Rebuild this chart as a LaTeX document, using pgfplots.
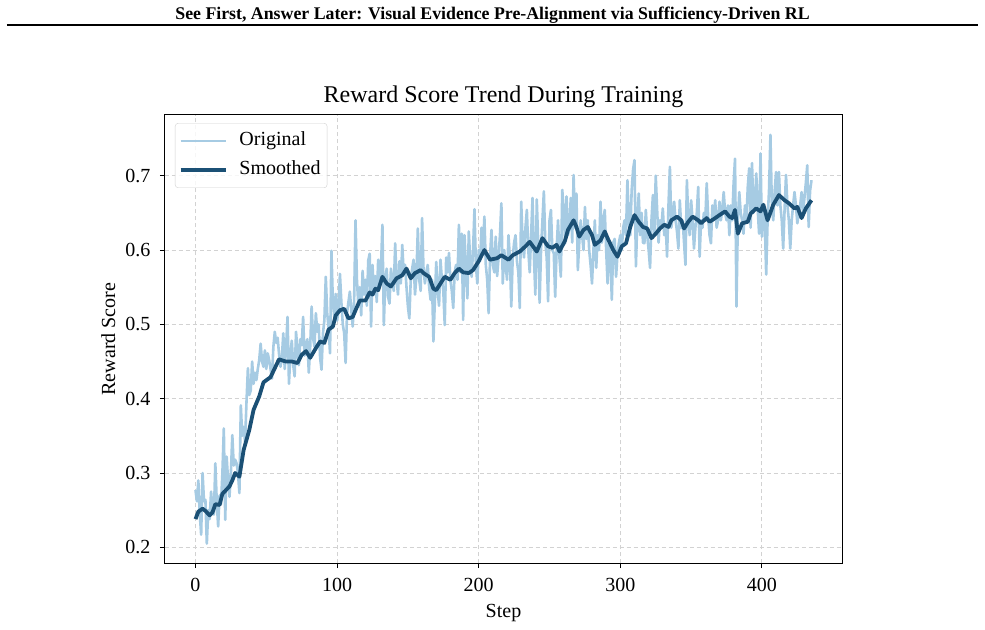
\documentclass[border=0pt]{standalone}
\usepackage{fontspec}
\setmainfont{Liberation Serif}
\usepackage{pgfplots}
\pgfplotsset{compat=1.18}
\usepackage{pgfplotstable}

\definecolor{rawblue}{RGB}{166,203,227}
\definecolor{smoothblue}{RGB}{27,80,117}
\definecolor{gridgray}{RGB}{210,210,210}

% Per-step reward score
\pgfplotstableread[row sep=\\]{
step reward\\
0 0.277\\ 1 0.262\\ 2 0.290\\ 3 0.245\\ 4 0.217\\ 5 0.300\\ 6 0.262\\ 7 0.264\\ 8 0.205\\ 9 0.250\\
10 0.238\\ 11 0.275\\ 12 0.250\\ 13 0.244\\ 14 0.313\\ 15 0.262\\ 16 0.228\\ 17 0.270\\ 18 0.258\\ 19 0.300\\
20 0.360\\ 21 0.237\\ 22 0.322\\ 23 0.290\\ 24 0.268\\ 25 0.300\\ 26 0.351\\ 27 0.310\\ 28 0.318\\ 29 0.313\\
30 0.300\\ 31 0.273\\ 32 0.391\\ 33 0.350\\ 34 0.362\\ 35 0.342\\ 36 0.395\\ 37 0.441\\ 38 0.405\\ 39 0.411\\
40 0.450\\ 41 0.420\\ 42 0.435\\ 43 0.425\\ 44 0.440\\ 45 0.452\\ 46 0.474\\ 47 0.450\\ 48 0.443\\ 49 0.465\\
50 0.440\\ 51 0.461\\ 52 0.452\\ 53 0.440\\ 54 0.427\\ 55 0.470\\ 56 0.490\\ 57 0.475\\ 58 0.482\\ 59 0.460\\
60 0.443\\ 61 0.455\\ 62 0.488\\ 63 0.440\\ 64 0.470\\ 65 0.510\\ 66 0.420\\ 67 0.460\\ 68 0.478\\ 69 0.445\\
70 0.430\\ 71 0.490\\ 72 0.465\\ 73 0.445\\ 74 0.480\\ 75 0.472\\ 76 0.510\\ 77 0.458\\ 78 0.468\\ 79 0.480\\
80 0.435\\ 81 0.470\\ 82 0.524\\ 83 0.482\\ 84 0.470\\ 85 0.515\\ 86 0.490\\ 87 0.500\\ 88 0.455\\ 89 0.439\\
90 0.488\\ 91 0.505\\ 92 0.564\\ 93 0.515\\ 94 0.495\\ 95 0.461\\ 96 0.599\\ 97 0.530\\ 98 0.510\\ 99 0.541\\
100 0.505\\ 101 0.520\\ 102 0.568\\ 103 0.530\\ 104 0.500\\ 105 0.488\\ 106 0.448\\ 107 0.515\\ 108 0.530\\ 109 0.544\\
110 0.520\\ 111 0.497\\ 112 0.530\\ 113 0.640\\ 114 0.560\\ 115 0.525\\ 116 0.550\\ 117 0.512\\ 118 0.572\\ 119 0.540\\
120 0.560\\ 121 0.525\\ 122 0.586\\ 123 0.595\\ 124 0.497\\ 125 0.580\\ 126 0.540\\ 127 0.565\\ 128 0.530\\ 129 0.587\\
130 0.555\\ 131 0.578\\ 132 0.634\\ 133 0.499\\ 134 0.560\\ 135 0.575\\ 136 0.537\\ 137 0.528\\ 138 0.575\\ 139 0.560\\
140 0.545\\ 141 0.609\\ 142 0.560\\ 143 0.540\\ 144 0.585\\ 145 0.555\\ 146 0.607\\ 147 0.570\\ 148 0.580\\ 149 0.550\\
150 0.524\\ 151 0.508\\ 152 0.560\\ 153 0.575\\ 154 0.587\\ 155 0.540\\ 156 0.565\\ 157 0.629\\ 158 0.560\\ 159 0.545\\
160 0.643\\ 161 0.575\\ 162 0.555\\ 163 0.570\\ 164 0.580\\ 165 0.550\\ 166 0.533\\ 167 0.560\\ 168 0.477\\ 169 0.530\\
170 0.584\\ 171 0.545\\ 172 0.525\\ 173 0.587\\ 174 0.560\\ 175 0.545\\ 176 0.499\\ 177 0.590\\ 178 0.570\\ 179 0.596\\
180 0.560\\ 181 0.545\\ 182 0.522\\ 183 0.570\\ 184 0.580\\ 185 0.560\\ 186 0.634\\ 187 0.570\\ 188 0.622\\ 189 0.506\\
190 0.620\\ 191 0.570\\ 192 0.535\\ 193 0.625\\ 194 0.585\\ 195 0.564\\ 196 0.600\\ 197 0.655\\ 198 0.580\\ 199 0.555\\
200 0.600\\ 201 0.585\\ 202 0.630\\ 203 0.600\\ 204 0.645\\ 205 0.580\\ 206 0.560\\ 207 0.515\\ 208 0.590\\ 209 0.627\\
210 0.580\\ 211 0.570\\ 212 0.618\\ 213 0.565\\ 214 0.590\\ 215 0.620\\ 216 0.663\\ 217 0.555\\ 218 0.600\\ 219 0.580\\
220 0.560\\ 221 0.620\\ 222 0.590\\ 223 0.524\\ 224 0.590\\ 225 0.610\\ 226 0.620\\ 227 0.585\\ 228 0.570\\ 229 0.522\\
230 0.665\\ 231 0.610\\ 232 0.590\\ 233 0.630\\ 234 0.654\\ 235 0.600\\ 236 0.570\\ 237 0.620\\ 238 0.670\\ 239 0.590\\
240 0.540\\ 241 0.668\\ 242 0.610\\ 243 0.529\\ 244 0.600\\ 245 0.640\\ 246 0.679\\ 247 0.610\\ 248 0.590\\ 249 0.531\\
250 0.640\\ 251 0.654\\ 252 0.600\\ 253 0.596\\ 254 0.537\\ 255 0.600\\ 256 0.640\\ 257 0.590\\ 258 0.564\\ 259 0.681\\
260 0.654\\ 261 0.609\\ 262 0.672\\ 263 0.620\\ 264 0.630\\ 265 0.670\\ 266 0.610\\ 267 0.701\\ 268 0.630\\ 269 0.676\\
270 0.573\\ 271 0.610\\ 272 0.640\\ 273 0.620\\ 274 0.600\\ 275 0.658\\ 276 0.615\\ 277 0.640\\ 278 0.600\\ 279 0.580\\
280 0.555\\ 281 0.600\\ 282 0.640\\ 283 0.576\\ 284 0.620\\ 285 0.600\\ 286 0.665\\ 287 0.610\\ 288 0.640\\ 289 0.654\\
290 0.600\\ 291 0.555\\ 292 0.610\\ 293 0.590\\ 294 0.533\\ 295 0.610\\ 296 0.615\\ 297 0.564\\ 298 0.595\\ 299 0.610\\
300 0.620\\ 301 0.600\\ 302 0.630\\ 303 0.640\\ 304 0.620\\ 305 0.694\\ 306 0.640\\ 307 0.620\\ 308 0.680\\ 309 0.708\\
310 0.721\\ 311 0.578\\ 312 0.640\\ 313 0.676\\ 314 0.620\\ 315 0.650\\ 316 0.610\\ 317 0.609\\ 318 0.654\\ 319 0.620\\
320 0.600\\ 321 0.576\\ 322 0.640\\ 323 0.674\\ 324 0.620\\ 325 0.700\\ 326 0.654\\ 327 0.610\\ 328 0.640\\ 329 0.630\\
330 0.656\\ 331 0.620\\ 332 0.635\\ 333 0.591\\ 334 0.660\\ 335 0.712\\ 336 0.630\\ 337 0.645\\ 338 0.665\\ 339 0.640\\
340 0.625\\ 341 0.602\\ 342 0.667\\ 343 0.630\\ 344 0.640\\ 345 0.610\\ 346 0.580\\ 347 0.694\\ 348 0.640\\ 349 0.620\\
350 0.667\\ 351 0.640\\ 352 0.602\\ 353 0.630\\ 354 0.650\\ 355 0.685\\ 356 0.591\\ 357 0.640\\ 358 0.630\\ 359 0.650\\
360 0.640\\ 361 0.690\\ 362 0.645\\ 363 0.620\\ 364 0.609\\ 365 0.660\\ 366 0.640\\ 367 0.667\\ 368 0.630\\ 369 0.640\\
370 0.665\\ 371 0.640\\ 372 0.655\\ 373 0.678\\ 374 0.650\\ 375 0.640\\ 376 0.660\\ 377 0.620\\ 378 0.660\\ 379 0.640\\
380 0.690\\ 381 0.723\\ 382 0.524\\ 383 0.640\\ 384 0.678\\ 385 0.650\\ 386 0.640\\ 387 0.622\\ 388 0.660\\ 389 0.640\\
390 0.685\\ 391 0.710\\ 392 0.630\\ 393 0.717\\ 394 0.650\\ 395 0.660\\ 396 0.703\\ 397 0.655\\ 398 0.622\\ 399 0.730\\
400 0.618\\ 401 0.660\\ 402 0.640\\ 403 0.567\\ 404 0.640\\ 405 0.680\\ 406 0.755\\ 407 0.660\\ 408 0.640\\ 409 0.680\\
410 0.705\\ 411 0.660\\ 412 0.705\\ 413 0.660\\ 414 0.640\\ 415 0.602\\ 416 0.655\\ 417 0.701\\ 418 0.660\\ 419 0.640\\
420 0.602\\ 421 0.640\\ 422 0.660\\ 423 0.678\\ 424 0.660\\ 425 0.636\\ 426 0.650\\ 427 0.660\\ 428 0.678\\ 429 0.650\\
430 0.670\\ 431 0.690\\ 432 0.714\\ 433 0.631\\ 434 0.680\\ 435 0.694\\
}\rawreward

\begin{document}
\begin{tikzpicture}
\path[use as bounding box] (-164.7bp,-66.7bp) rectangle (820.3bp,563.3bp);
% running header
\node[font=\bfseries\fontsize{17.8bp}{21bp}\selectfont, anchor=base] at (327.8bp,543.5bp)
  {See First, Answer Later: Visual Evidence Pre-Alignment via Sufficiency-Driven RL};
\draw[line width=1.5bp] (-157.7bp,538.3bp) -- (813.3bp,538.3bp);

\begin{axis}[
  at={(0,0)}, anchor=south west,
  scale only axis, width=677.6bp, height=448.3bp,
  xmin=-21.75, xmax=456.75, ymin=0.1785, ymax=0.7817,
  xtick={0,100,200,300,400},
  ytick={0.2,0.3,0.4,0.5,0.6,0.7},
  tick pos=left, tick align=outside, major tick length=4.9bp,
  tick style={black, line width=0.9bp},
  axis line style={line width=1bp},
  grid=major,
  major grid style={gridgray, line width=0.9bp, dash pattern=on 4.5bp off 2.5bp},
  /pgf/number format/assume math mode=true,
  yticklabel style={/pgf/number format/fixed, /pgf/number format/precision=1,
    /pgf/number format/fixed zerofill, xshift=-6bp},
  xticklabel style={yshift=-6bp},
  tick label style={font=\fontsize{20bp}{24bp}\selectfont},
  title={Reward Score Trend During Training},
  title style={font=\fontsize{24bp}{28bp}\selectfont, at={(axis description cs:0.5,1.0135)}, anchor=base},
  xlabel={Step},
  ylabel={Reward Score},
  every axis x label/.style={at={(axis description cs:0.5,-0.1198)}, anchor=base, font=\fontsize{20bp}{24bp}\selectfont},
  every axis y label/.style={at={(axis description cs:-0.0733,0.5)}, rotate=90, anchor=base, font=\fontsize{20bp}{24bp}\selectfont},
  legend style={at={(axis description cs:0.0152,0.982)}, anchor=north west,
    draw=black!18, rounded corners=3bp, fill=white, fill opacity=0.8, text opacity=1,
    font=\fontsize{20bp}{24bp}\selectfont, inner xsep=3.5bp, inner ysep=5.5bp,
    row sep=4.5bp,
    nodes={inner xsep=3bp, inner ysep=3bp, text height=14bp, text depth=4.5bp},
    /tikz/every odd column/.append style={column sep=9bp}},
  legend cell align=left,
  legend image code/.code={\draw[#1] (0bp,0bp) -- (45bp,0bp);},
]
\addplot[rawblue, line width=2.6bp, line join=round] table[x=step, y=reward]{\rawreward};
\addlegendentry{Original}
\addplot[smoothblue, line width=3.8bp, line join=round] coordinates {
(0,0.238) (2,0.248) (5,0.252) (7,0.249) (10,0.243) (12,0.247) (14,0.258) (17,0.257)
(19,0.272) (21,0.276) (24,0.282) (26,0.290) (28,0.300) (31,0.295) (34,0.331) (38,0.358)
(41,0.385) (45,0.403) (48,0.422) (53,0.429) (57,0.445) (59,0.453) (62,0.451) (64,0.450)
(68,0.450) (72,0.448) (75,0.459) (78,0.464) (81,0.455) (85,0.468) (88,0.477) (91,0.475)
(94,0.493) (97,0.497) (99,0.512) (102,0.519) (105,0.521) (108,0.508) (111,0.510) (113,0.519)
(116,0.532) (120,0.532) (123,0.543) (125,0.540) (127,0.548) (129,0.546) (132,0.564) (135,0.555)
(138,0.551) (142,0.562) (146,0.566) (149,0.575) (152,0.562) (155,0.569) (159,0.573) (161,0.569)
(165,0.564) (168,0.548) (170,0.546) (173,0.555) (176,0.564) (180,0.560) (183,0.569) (186,0.575)
(189,0.570) (193,0.569) (196,0.573) (200,0.585) (204,0.600) (208,0.587) (213,0.589) (216,0.593)
(221,0.587) (224,0.593) (229,0.598) (233,0.605) (236,0.611) (241,0.598) (245,0.616) (249,0.605)
(252,0.603) (255,0.607) (257,0.598) (261,0.613) (263,0.627) (267,0.640) (269,0.631) (271,0.618)
(274,0.627) (277,0.631) (280,0.620) (282,0.607) (286,0.613) (289,0.625) (291,0.616) (295,0.600)
(298,0.591) (301,0.605) (304,0.609) (307,0.631) (310,0.647) (313,0.638) (316,0.631) (319,0.629)
(322,0.616) (325,0.622) (328,0.629) (331,0.634) (334,0.631) (336,0.640) (340,0.645) (343,0.640)
(345,0.629) (348,0.638) (351,0.645) (355,0.640) (357,0.636) (361,0.643) (363,0.638) (367,0.643)
(370,0.647) (374,0.652) (377,0.645) (379,0.643) (381,0.654) (383,0.622) (386,0.636) (390,0.638)
(392,0.649) (396,0.656) (399,0.652) (401,0.661) (404,0.640) (408,0.661) (412,0.674) (416,0.667)
(419,0.663) (423,0.656) (425,0.658) (428,0.643) (431,0.656) (435,0.667)
};
\addlegendentry{Smoothed}
\end{axis}
\end{tikzpicture}
\end{document}
